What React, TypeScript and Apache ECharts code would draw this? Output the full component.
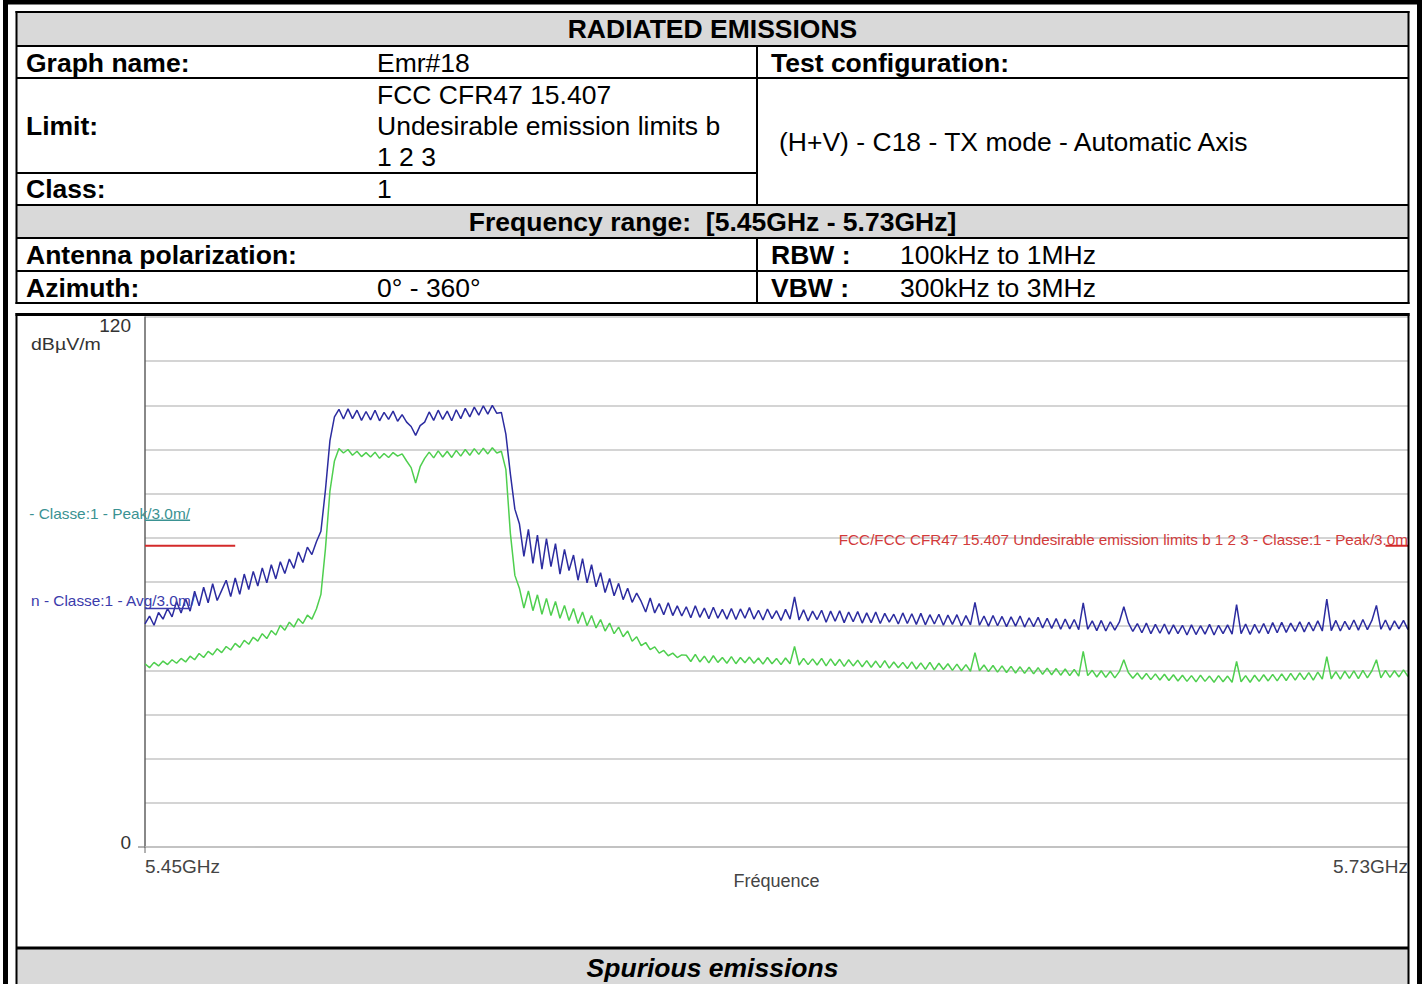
import React, { useEffect, useRef } from 'react';
import * as echarts from 'echarts';

// Sweep: 5450 MHz to 5730 MHz, 1 MHz step (281 points)
const SWEEP_START_MHZ = 5450;
const SWEEP_STEP_MHZ = 1;

// Peak trace (dBµV/m)
const peakDbuv = [
  50.5, 52.3, 50.2, 53.1, 51.6, 54.0, 52.1, 55.6, 53.0, 56.2,
  53.4, 57.9, 54.6, 58.8, 55.3, 59.6, 55.8, 58.1, 60.4, 56.7,
  60.9, 57.2, 61.8, 58.3, 62.4, 59.1, 63.2, 59.8, 63.9, 60.7,
  64.6, 61.9, 65.2, 63.1, 66.8, 64.4, 67.9, 66.2, 69.1, 71.5,
  80.8, 92.0, 97.4, 99.1, 96.9, 99.2, 97.0, 98.9, 96.6, 98.6,
  96.7, 98.9, 96.5, 98.4, 96.8, 98.7, 96.4, 97.9, 96.2, 95.2,
  93.2, 95.4, 96.2, 98.5, 96.6, 98.9, 96.8, 98.7, 96.5, 99.0,
  97.0, 99.3, 97.4, 99.6, 97.8, 99.9, 98.0, 100.0, 98.2, 98.4,
  93.5, 84.5, 76.5, 73.2, 65.8, 71.9, 64.2, 70.6, 62.9, 69.8,
  63.5, 68.7, 61.8, 67.4, 62.6, 66.1, 60.4, 65.3, 59.8, 63.9,
  58.9, 62.1, 57.6, 60.8, 56.9, 59.7, 56.0, 58.6, 55.4, 57.5,
  55.6, 53.2, 56.4, 53.0, 55.1, 52.6, 55.3, 52.4, 54.6, 52.3,
  54.4, 51.9, 54.6, 52.0, 54.1, 51.7, 54.3, 51.8, 53.8, 51.6,
  54.0, 51.5, 53.9, 51.8, 54.2, 51.6, 53.6, 51.4, 53.9, 51.7,
  53.5, 51.3, 53.8, 51.6, 56.6, 51.4, 53.7, 51.2, 53.4, 51.5,
  53.6, 50.9, 53.4, 51.1, 53.5, 50.8, 53.2, 51.0, 53.3, 50.7,
  53.0, 50.8, 53.2, 50.6, 52.9, 50.9, 52.7, 50.5, 53.0, 50.6,
  52.8, 50.4, 52.9, 50.3, 52.6, 50.5, 52.7, 50.2, 52.5, 50.4,
  52.6, 50.1, 52.4, 50.3, 55.4, 50.2, 52.3, 50.0, 52.4, 50.1,
  52.2, 49.9, 52.1, 50.0, 52.3, 49.8, 51.9, 49.9, 52.0, 49.6,
  51.8, 49.5, 51.7, 49.3, 51.6, 49.4, 51.5, 49.2, 55.3, 49.3,
  51.2, 49.0, 51.3, 48.9, 51.0, 49.1, 50.9, 54.4, 50.8, 48.8,
  50.6, 48.5, 50.7, 48.3, 50.4, 48.4, 50.5, 48.2, 50.3, 48.3,
  50.2, 48.0, 50.3, 48.1, 50.1, 48.2, 50.4, 48.0, 50.2, 48.3,
  50.3, 48.2, 54.9, 48.3, 50.5, 48.1, 50.4, 48.4, 50.6, 48.3,
  50.8, 48.5, 50.9, 48.6, 50.7, 48.8, 51.0, 48.7, 50.9, 48.9,
  51.2, 48.9, 56.1, 49.0, 51.3, 48.9, 51.1, 49.2, 51.4, 49.1,
  51.5, 49.2, 51.3, 54.7, 49.3, 51.4, 49.1, 51.2, 49.4, 51.3, 49.2,
];

// Average trace (dBµV/m)
const avgDbuv = [
  41.5, 40.6, 41.8, 41.0, 42.1, 41.3, 42.4, 41.6, 42.7, 41.9,
  43.2, 42.4, 43.8, 42.9, 44.3, 43.5, 44.9, 44.0, 45.4, 44.6,
  46.1, 45.2, 46.8, 45.9, 47.5, 46.6, 48.3, 47.2, 49.0, 48.0,
  50.2, 49.1, 50.9, 49.8, 51.7, 50.6, 52.5, 51.6, 53.9, 57.2,
  67.5, 80.6, 87.4, 90.2, 89.2, 90.0, 88.7, 89.6, 88.4, 89.3,
  88.3, 89.4, 88.0, 89.1, 88.2, 89.3, 88.5, 89.0, 87.4, 85.9,
  82.4, 86.1, 88.0, 89.4, 88.1, 89.7, 88.3, 89.6, 88.2, 89.8,
  88.5, 90.0, 88.7, 90.2, 88.9, 90.3, 89.0, 90.4, 89.2, 89.6,
  85.5, 71.0, 61.5, 58.6, 54.1, 58.0, 53.5, 57.1, 52.7, 56.3,
  52.4, 55.6, 51.8, 54.7, 51.3, 54.0, 50.6, 53.2, 50.1, 52.4,
  49.6, 51.5, 48.9, 50.7, 48.3, 49.8, 47.6, 48.9, 46.6, 47.6,
  45.6, 46.3, 44.7, 45.3, 43.9, 44.5, 43.3, 43.9, 42.9, 43.5,
  43.4, 42.0, 43.6, 41.9, 43.2, 41.7, 43.3, 41.8, 42.9, 41.6,
  43.1, 41.5, 42.9, 41.7, 43.0, 41.6, 42.8, 41.4, 42.9, 41.5,
  42.7, 41.3, 42.8, 41.5, 45.4, 41.2, 42.7, 41.3, 42.6, 41.2,
  42.7, 41.0, 42.6, 41.1, 42.5, 40.9, 42.4, 41.0, 42.3, 40.8,
  42.2, 40.7, 42.1, 40.6, 42.2, 40.5, 41.9, 40.6, 41.8, 40.4,
  41.9, 40.3, 41.7, 40.2, 41.8, 40.1, 41.6, 40.2, 41.5, 40.0,
  41.4, 39.9, 41.3, 39.8, 44.0, 39.9, 41.2, 39.7, 41.1, 39.6,
  41.0, 39.5, 40.9, 39.4, 40.8, 39.3, 40.7, 39.2, 40.6, 39.1,
  40.5, 39.0, 40.4, 38.9, 40.3, 38.8, 40.2, 38.7, 44.3, 38.8,
  40.0, 38.5, 39.9, 38.4, 39.8, 38.3, 39.7, 42.4, 39.5, 38.2,
  39.4, 38.0, 39.3, 37.9, 39.2, 37.8, 39.1, 37.7, 39.0, 37.6,
  38.9, 37.5, 38.8, 37.4, 38.9, 37.5, 38.7, 37.3, 38.8, 37.4,
  38.7, 37.3, 42.0, 37.4, 38.8, 37.3, 38.9, 37.5, 39.0, 37.6,
  39.1, 37.6, 39.2, 37.7, 39.3, 37.8, 39.4, 37.9, 39.5, 37.8,
  39.6, 38.0, 43.1, 38.1, 39.7, 38.0, 39.8, 38.2, 39.9, 38.1,
  40.0, 38.3, 39.9, 42.4, 38.3, 40.0, 38.4, 39.9, 38.5, 40.1, 38.6,
];

// FCC CFR47 15.407 undesirable emission limit (peak), with a gap in-band
const limitFreqMHz = [5450, 5470, 5470, 5725, 5730];
const limitDbuv: (number | null)[] = [68.2, 68.2, null, 68.2, 68.2];

// Restricted band limits (5.35–5.46 GHz)
const restrictedFreqMHz = [5450, 5460];
const restrictedPeakDbuv = [74, 74];
const restrictedAvgDbuv = [54, 54];

const X_MIN = 5450;
const X_MAX = 5730;
const Y_MIN = 0;
const Y_MAX = 120;
const Y_STEP = 10;
const xLabelText: Record<number, string> = { 5450: '5.45GHz', 5730: '5.73GHz' };
const yLabelText: Record<number, string> = { 120: '120', 0: '0' };

const FF = 'Liberation Sans, Arial, Helvetica, sans-serif';
const TABLE_FS = 26.5;

function txt(x: number, y: number, text: string, opts: any = {}) {
  const align = opts.align || 'left';
  return {
    type: 'text',
    x,
    y,
    z: 10,
    scaleX: opts.scaleX || 1,
    style: {
      text,
      fill: opts.color || '#000',
      fontSize: opts.size || TABLE_FS,
      fontWeight: opts.bold ? 'bold' : 'normal',
      fontStyle: opts.italic ? 'italic' : 'normal',
      fontFamily: FF,
      align,
      textAlign: align,
      verticalAlign: 'middle',
      textVerticalAlign: 'middle',
    },
  };
}

function hline(x1: number, x2: number, y: number, w = 2, color = '#000') {
  return { type: 'line', z: 5, shape: { x1, y1: y, x2, y2: y }, style: { stroke: color, lineWidth: w } };
}
function vline(x: number, y1: number, y2: number, w = 2, color = '#000') {
  return { type: 'line', z: 5, shape: { x1: x, y1, x2: x, y2 }, style: { stroke: color, lineWidth: w } };
}
function rect(x: number, y: number, width: number, height: number, style: any, z = 1) {
  return { type: 'rect', z, shape: { x, y, width, height }, style };
}

export default function App() {
  const ref = useRef<HTMLDivElement>(null);

  useEffect(() => {
    if (!ref.current) return;
    document.body.style.margin = '0';
    const chart = echarts.init(ref.current, undefined, { renderer: 'svg' });

    const sweepMHz = peakDbuv.map((_, i) => SWEEP_START_MHZ + i * SWEEP_STEP_MHZ);
    const peakData = sweepMHz.map((f, i) => [f, peakDbuv[i]]);
    const avgData = sweepMHz.map((f, i) => [f, avgDbuv[i]]);
    const limitData = limitFreqMHz.map((f, i) => [f, limitDbuv[i] === null ? '-' : limitDbuv[i]]);
    const rPeak = restrictedFreqMHz.map((f, i) => [f, restrictedPeakDbuv[i]]);
    const rAvg = restrictedFreqMHz.map((f, i) => [f, restrictedAvgDbuv[i]]);

    const L = 16.5;
    const R = 1408.5;

    const graphics: any[] = [
      // Outer heavy frame
      rect(5.5, 2, 1414, 1000, { fill: 'none', stroke: '#000', lineWidth: 5 }, 20),
      // Gray bands
      rect(L, 12, R - L, 34, { fill: '#d9d9d9' }, 1),
      rect(L, 205, R - L, 33, { fill: '#d9d9d9' }, 1),
      rect(L, 948, R - L, 50, { fill: '#d9d9d9' }, 1),
      // Info table lines
      hline(L - 1, R + 1, 12),
      hline(L, R, 46),
      hline(L, R, 78),
      hline(L, 757, 173),
      hline(L, R, 205),
      hline(L, R, 238),
      hline(L, R, 271),
      hline(L - 1, R + 1, 303),
      vline(L, 11, 304),
      vline(R, 11, 304),
      vline(757, 46, 205),
      vline(757, 238, 303),
      // Chart box
      hline(L - 1, R + 1, 314.5, 3),
      vline(L, 313, 990),
      vline(R, 313, 990),
      hline(L, R, 948, 3),
      // Small ticks at the axis origin
      hline(138, 145, 847, 1, '#666'),
      vline(145, 847, 853, 1, '#666'),
      // Info table texts
      txt(712.5, 29, 'RADIATED EMISSIONS', { bold: true, align: 'center' }),
      txt(26, 63, 'Graph name:', { bold: true }),
      txt(377, 63, 'Emr#18'),
      txt(771, 63, 'Test configuration:', { bold: true }),
      txt(26, 126, 'Limit:', { bold: true }),
      txt(377, 95, 'FCC CFR47 15.407'),
      txt(377, 126, 'Undesirable emission limits b'),
      txt(377, 157, '1 2 3'),
      txt(779, 142, '(H+V) - C18 - TX mode - Automatic Axis'),
      txt(26, 189, 'Class:', { bold: true }),
      txt(377, 189, '1'),
      txt(712.5, 222, 'Frequency range:  [5.45GHz - 5.73GHz]', { bold: true, align: 'center' }),
      txt(26, 255, 'Antenna polarization:', { bold: true }),
      txt(771, 255, 'RBW :', { bold: true }),
      txt(900, 255, '100kHz to 1MHz'),
      txt(26, 288, 'Azimuth:', { bold: true }),
      txt(377, 288, '0° - 360°'),
      txt(771, 288, 'VBW :', { bold: true }),
      txt(900, 288, '300kHz to 3MHz'),
      txt(712.5, 968, 'Spurious emissions', { bold: true, italic: true, align: 'center' }),
      // Chart annotations
      txt(31, 344, 'dBµV/m', { size: 17, color: '#333', scaleX: 1.15 }),
      txt(190, 514, '- Classe:1 - Peak/3.0m/', { size: 14, color: '#3a9292', align: 'right', scaleX: 1.1 }),
      txt(195, 601, 'n - Classe:1 - Avg/3.0m/', { size: 14, color: '#3b3bab', align: 'right', scaleX: 1.1 }),
      txt(1408, 540, 'FCC/FCC CFR47 15.407 Undesirable emission limits b 1 2 3 - Classe:1 - Peak/3.0m', { size: 14, color: '#d23a3a', align: 'right', scaleX: 1.09 }),
    ];

    const option: any = {
      animation: false,
      backgroundColor: '#ffffff',
      grid: { left: 145, right: 18, top: 317, bottom: 137, containLabel: false },
      xAxis: {
        type: 'value',
        min: X_MIN,
        max: X_MAX,
        splitLine: { show: false },
        axisTick: { show: false },
        axisLine: { show: true, onZero: false, lineStyle: { color: '#bdbdbd', width: 1.5 } },
        axisLabel: {
          showMinLabel: true,
          showMaxLabel: true,
          alignMinLabel: 'left',
          alignMaxLabel: 'right',
          margin: 10,
          color: '#444',
          fontSize: 19,
          fontFamily: FF,
          formatter: (v: number) => {
            const k = Math.round(v);
            return xLabelText[k] !== undefined && Math.abs(v - k) < 1e-6 ? xLabelText[k] : '';
          },
        },
        name: 'Fréquence',
        nameLocation: 'middle',
        nameGap: 25,
        nameMoveOverlap: false,
        nameTextStyle: { color: '#444', fontSize: 18, fontFamily: FF },
      },
      yAxis: {
        type: 'value',
        min: Y_MIN,
        max: Y_MAX,
        interval: Y_STEP,
        axisLine: { show: true, lineStyle: { color: '#606060', width: 1.5 } },
        axisTick: { show: false },
        splitLine: { show: true, lineStyle: { color: '#c6c6c6', width: 1.5 } },
        axisLabel: {
          margin: 14,
          formatter: (v: number) => {
            if (v === 120) return '{top|' + yLabelText[120] + '}';
            if (v === 0) return '{bot|' + yLabelText[0] + '}';
            return '';
          },
          rich: {
            top: { padding: [16, 0, 0, 0], fontSize: 19, color: '#333', fontFamily: FF },
            bot: { padding: [0, 0, 10, 0], fontSize: 19, color: '#333', fontFamily: FF },
          },
        },
      },
      series: [
        {
          name: 'Avg',
          type: 'line',
          data: avgData,
          showSymbol: false,
          symbol: 'none',
          lineStyle: { color: '#4fcf4f', width: 1.5 },
          z: 2,
        },
        {
          name: 'Peak',
          type: 'line',
          data: peakData,
          showSymbol: false,
          symbol: 'none',
          lineStyle: { color: '#2c2ca0', width: 1.5 },
          z: 3,
        },
        {
          name: 'Limit 15.407',
          type: 'line',
          data: limitData,
          showSymbol: false,
          symbol: 'none',
          connectNulls: false,
          lineStyle: { color: '#d42a2a', width: 2 },
          z: 4,
        },
        {
          name: 'Restricted Peak',
          type: 'line',
          data: rPeak,
          showSymbol: false,
          symbol: 'none',
          lineStyle: { color: '#3a9292', width: 1.5 },
          z: 4,
        },
        {
          name: 'Restricted Avg',
          type: 'line',
          data: rAvg,
          showSymbol: false,
          symbol: 'none',
          lineStyle: { color: '#3b3bab', width: 1.5 },
          z: 4,
        },
      ],
      graphic: { elements: graphics },
    };

    chart.setOption(option);
    return () => chart.dispose();
  }, []);

  return (
    <div
      ref={ref}
      style={{ position: 'fixed', left: 0, top: 0, width: 1426, height: 984, background: '#fff' }}
    />
  );
}
